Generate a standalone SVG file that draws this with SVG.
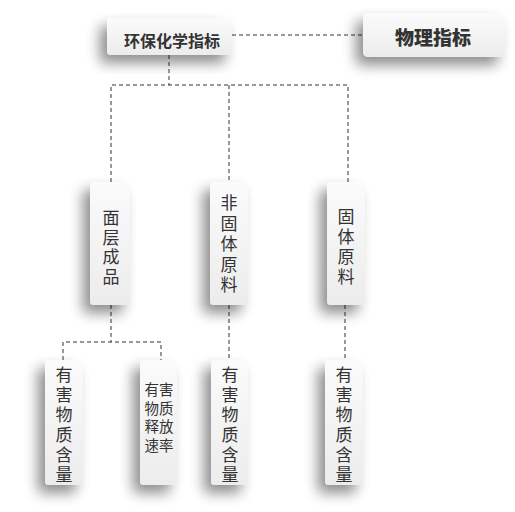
<svg xmlns="http://www.w3.org/2000/svg" width="515" height="512" viewBox="0 0 515 512">
<defs>
<linearGradient id="g" x1="0" y1="0" x2="0" y2="1">
<stop offset="0" stop-color="#fbfbfb"/>
<stop offset="1" stop-color="#ececec"/>
</linearGradient>
<filter id="sh" x="-80%" y="-40%" width="220%" height="190%">
<feGaussianBlur in="SourceAlpha" stdDeviation="7"/>
<feOffset dx="-7" dy="8" result="b"/>
<feComponentTransfer><feFuncA type="linear" slope="0.45"/></feComponentTransfer>
<feMerge><feMergeNode/><feMergeNode in="SourceGraphic"/></feMerge>
</filter>
</defs>
<style>
.box{fill:url(#g);filter:url(#sh)}
.t{font-family:"Noto Sans CJK SC","Noto Sans",sans-serif;fill:#333;text-anchor:middle}
.v{font-size:17px;writing-mode:vertical-rl;letter-spacing:3px}
.s{font-size:14.5px;font-family:"Liberation Sans","Noto Sans CJK SC",sans-serif}
.c line,.c path{stroke:#333;stroke-width:1;stroke-dasharray:4 3;fill:none}
</style>
<rect width="515" height="512" fill="#fff"/>
<g class="c" id="connectors">
<line x1="232" y1="35" x2="363" y2="35"/>
<line x1="169" y1="55" x2="169" y2="85"/>
<path d="M111 182 V85 H348 V182"/>
<line x1="229" y1="85" x2="229" y2="182"/>
<line x1="111" y1="305" x2="111" y2="342"/>
<path d="M63 360 V342 H161 V360"/>
<line x1="229" y1="305" x2="229" y2="360"/>
<line x1="345" y1="305" x2="345" y2="360"/>
</g>
<g id="n-env">
<rect class="box" x="107" y="18" width="125" height="37" rx="4"/>
<text class="t" x="172" y="47" font-size="16" font-weight="bold">环保化学指标</text>
</g>
<g id="n-phys">
<rect class="box" x="363" y="13" width="142" height="44" rx="5"/>
<text class="t" x="433" y="45" font-size="19" font-weight="900">物理指标</text>
</g>
<g id="n-mc">
<rect class="box" x="90" y="182" width="40" height="123" rx="4"/>
<text class="t v" x="111" y="248.5" style="letter-spacing:2.5px">面层成品</text>
</g>
<g id="n-fgt">
<rect class="box" x="210" y="182" width="38" height="123" rx="4"/>
<text class="t v" x="229" y="245.5" style="letter-spacing:3.5px">非固体原料</text>
</g>
<g id="n-gt">
<rect class="box" x="327" y="182" width="38" height="123" rx="4"/>
<text class="t v" x="346" y="248">固体原料</text>
</g>
<g id="n-a">
<rect class="box" x="45" y="360" width="38" height="125" rx="4"/>
<text class="t v" x="64" y="426.5">有害物质含量</text>
</g>
<g id="n-b">
<rect class="box" x="140" y="360" width="37" height="125" rx="4"/>
<text class="t s"><tspan x="159" y="395">有害</tspan><tspan x="159" y="413.5">物质</tspan><tspan x="159" y="432">释放</tspan><tspan x="159" y="450.5">速率</tspan></text>
</g>
<g id="n-c">
<rect class="box" x="211" y="360" width="37" height="125" rx="4"/>
<text class="t v" x="230" y="426.5">有害物质含量</text>
</g>
<g id="n-d">
<rect class="box" x="325" y="360" width="38" height="125" rx="4"/>
<text class="t v" x="344" y="426.5">有害物质含量</text>
</g>
</svg>
